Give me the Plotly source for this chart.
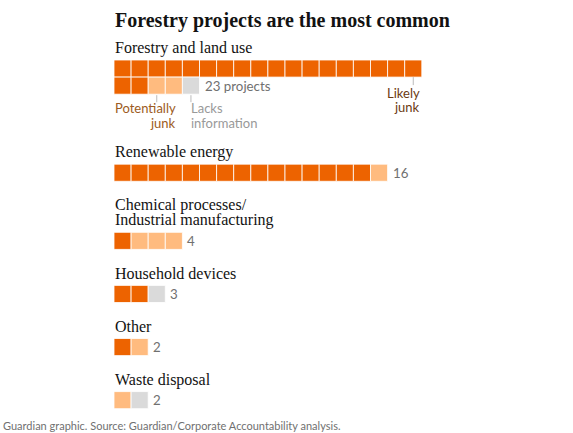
import math
import plotly.graph_objects as go

# ---------------------------------------------------------
# DATA
# ---------------------------------------------------------
categories = [
    "Forestry and land use",
    "Renewable energy",
    "Chemical processes/\nIndustrial manufacturing",
    "Household devices",
    "Other",
    "Waste disposal",
]
likely_junk = [20, 15, 1, 2, 1, 0]
potentially_junk = [2, 1, 3, 0, 1, 1]
lacks_info = [1, 0, 0, 1, 0, 1]

title = "Forestry projects are the most common"
source = "Guardian graphic. Source: Guardian/Corporate Accountability analysis."

# ---------------------------------------------------------
# STYLE / LAYOUT CONSTANTS (pixels)
# ---------------------------------------------------------
W, H = 573, 433
X0 = 114          # left edge of waffles
CELL = 17.1       # square size
PER_ROW = 18
LINE_H = 15       # label line spacing
SERIF = "Liberation Serif"
SANS = "Lato"
COLORS = {"likely": "#ed6300", "potential": "#ffbb7f", "lacks": "#dadada"}
TEXT_COLORS = {"likely": "#6b3a12", "potential": "#9c5b22", "lacks": "#999999"}

fig = go.Figure()
shapes = []
annotations = []


def text(x, y, s, size, color, family, xanchor="left", yanchor="middle", bold=False):
    annotations.append(dict(
        x=x, y=y, xref="x", yref="y", text=f"<b>{s}</b>" if bold else s,
        showarrow=False, xanchor=xanchor, yanchor=yanchor,
        font=dict(size=size, color=color, family=family),
    ))


def tick(x, y0, y1):
    shapes.append(dict(type="line", xref="x", yref="y", x0=x, x1=x, y0=y0, y1=y1,
                       line=dict(color="#bbbbbb", width=1)))


text(X0 - 1, 20, title, 20, "#121212", SERIF, bold=True)

y = 48
for i, cat in enumerate(categories):
    lines = cat.split("\n")
    for k, ln in enumerate(lines):
        text(X0 - 1, y + k * LINE_H, ln, 16, "#121212", SERIF)
    row_top = y + (len(lines) - 1) * LINE_H + 12

    kinds = ["likely"] * likely_junk[i] + ["potential"] * potentially_junk[i] + ["lacks"] * lacks_info[i]
    n = len(kinds)
    for j, kind in enumerate(kinds):
        col, row = j % PER_ROW, j // PER_ROW
        shapes.append(dict(
            type="rect", xref="x", yref="y",
            x0=X0 + col * CELL, x1=X0 + (col + 1) * CELL,
            y0=row_top + row * CELL, y1=row_top + (row + 1) * CELL,
            fillcolor=COLORS[kind], line=dict(color="white", width=0.8), layer="below",
        ))
    n_rows = math.ceil(n / PER_ROW)
    last_col = (n - 1) % PER_ROW + 1
    last_mid = row_top + (n_rows - 0.5) * CELL
    label = f"{n} projects" if i == 0 else str(n)
    text(X0 + last_col * CELL + 3, last_mid, label, 13.3, "#707070", SANS)
    row_bottom = row_top + n_rows * CELL

    extra = 0
    if i == 0:
        # key annotations on the first waffle
        x_likely = X0 + (PER_ROW - 0.5) * CELL
        tick(x_likely, row_top + CELL, row_top + CELL + 8)
        text(X0 + PER_ROW * CELL, row_top + CELL + 16, "Likely", 13, TEXT_COLORS["likely"], SANS, "right")
        text(X0 + PER_ROW * CELL, row_top + CELL + 30, "junk", 13, TEXT_COLORS["likely"], SANS, "right")

        j_pot = likely_junk[0] - PER_ROW
        x_pot = X0 + (j_pot + 0.5) * CELL
        tick(x_pot, row_bottom + 1, row_bottom + 8)
        text(x_pot + 21, row_bottom + 14, "Potentially", 13, TEXT_COLORS["potential"], SANS, "right")
        text(x_pot + 21, row_bottom + 29, "junk", 13, TEXT_COLORS["potential"], SANS, "right")

        x_lack = X0 + (j_pot + potentially_junk[0] + 0.5) * CELL
        tick(x_lack, row_bottom + 1, row_bottom + 8)
        text(x_lack - 2, row_bottom + 14, "Lacks", 13, TEXT_COLORS["lacks"], SANS)
        text(x_lack - 2, row_bottom + 29, "information", 13, TEXT_COLORS["lacks"], SANS)
        extra = 34

    y = row_bottom + 24 + extra

text(1, 425, source, 11, "#707070", SANS)

fig.update_layout(
    width=W, height=H,
    margin=dict(l=0, r=0, t=0, b=0),
    paper_bgcolor="white", plot_bgcolor="white",
    xaxis=dict(range=[0, W], visible=False, fixedrange=True),
    yaxis=dict(range=[H, 0], visible=False, fixedrange=True),
    shapes=shapes, annotations=annotations, showlegend=False,
)

# drop the browser's default body margin so the figure sits at the page origin
fig.write_html("out.html", config={"displayModeBar": False},
               post_script="document.body.style.margin='0';")
